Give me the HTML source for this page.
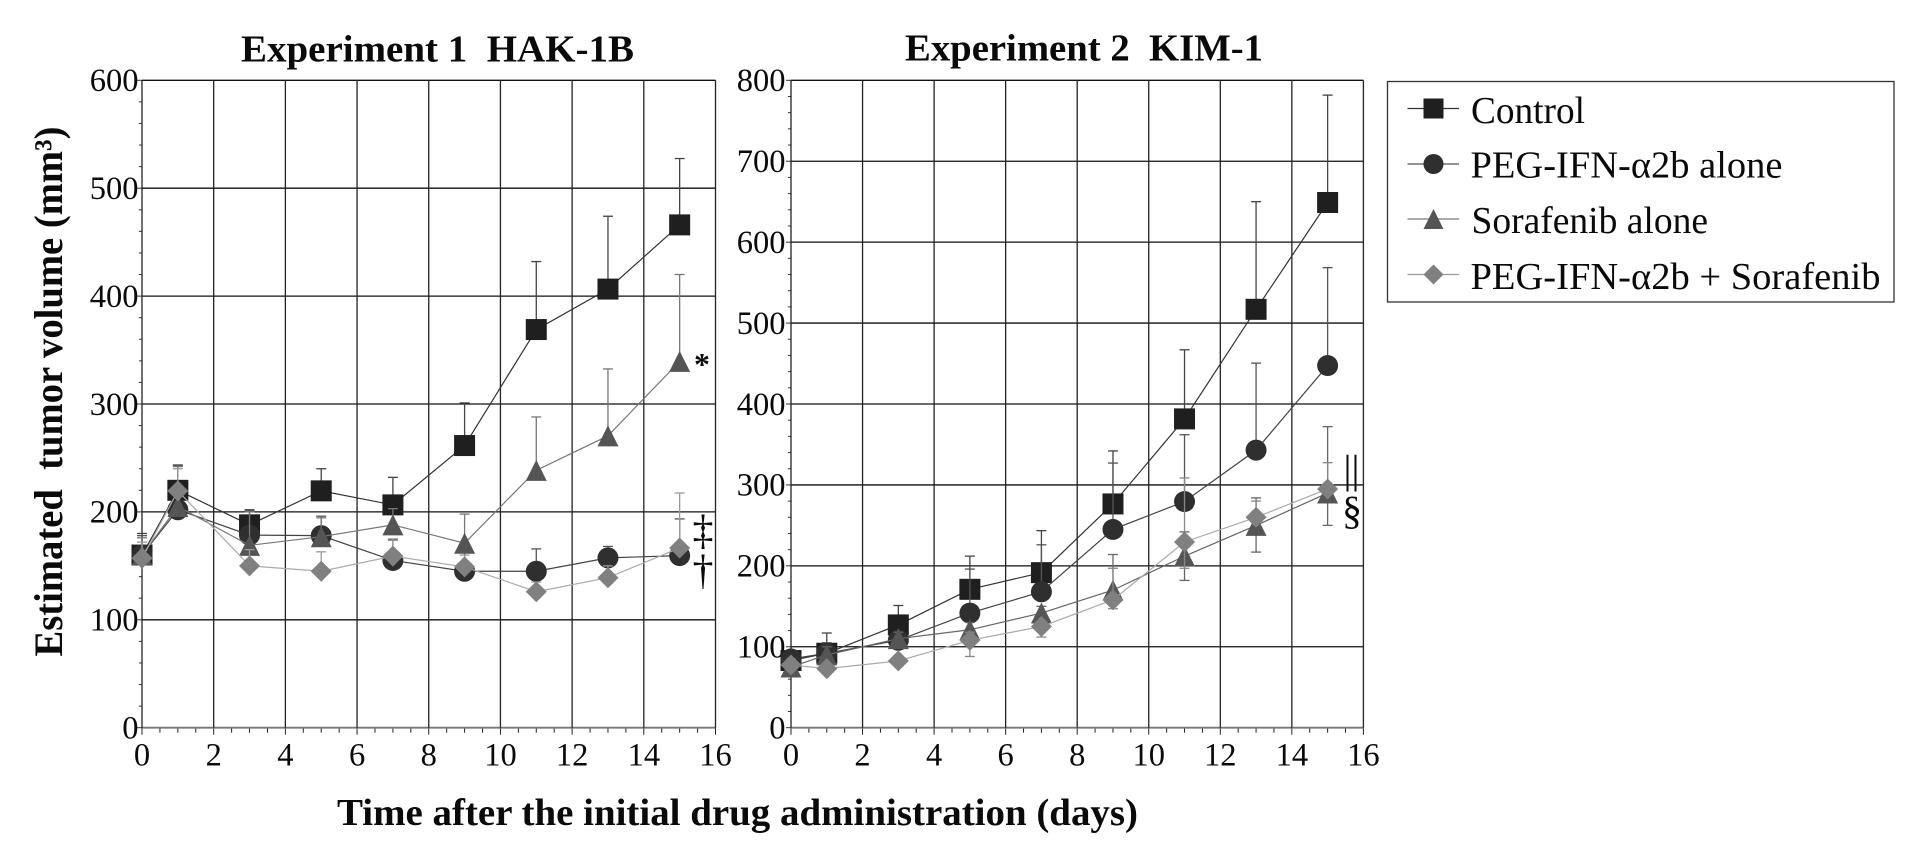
<!DOCTYPE html>
<html lang="en">
<head>
<meta charset="utf-8">
<title>Estimated tumor volume</title>
<style>
html,body{margin:0;padding:0;background:#fff;width:1913px;height:866px;overflow:hidden}
svg{display:block;filter:blur(0.3px)}
text{font-family:"Liberation Serif","DejaVu Serif",serif;fill:#0a0a0a}
.b{font-weight:bold}
</style>
</head>
<body>
<svg id="chart" xmlns="http://www.w3.org/2000/svg" width="1913" height="866" viewBox="0 0 1913 866">
  <rect x="0" y="0" width="1913" height="866" fill="#fff"/>
  <text class="b" x="241" y="61.5" font-size="38.5" textLength="393" lengthAdjust="spacingAndGlyphs" xml:space="preserve">Experiment 1  HAK-1B</text>
  <text class="b" x="905" y="60.5" font-size="38.5" textLength="358" lengthAdjust="spacingAndGlyphs" xml:space="preserve">Experiment 2  KIM-1</text>
  <text class="b" x="337" y="825" font-size="38" textLength="801" lengthAdjust="spacingAndGlyphs">Time after the initial drug administration (days)</text>
  <text class="b" transform="translate(62,656.5) rotate(-90)" x="0" y="0" font-size="40" textLength="530" lengthAdjust="spacingAndGlyphs" xml:space="preserve">Estimated  tumor volume (mm³)</text>

  <g id="plot-1"></g>
  <g id="plot-2"></g>

  <text class="b" x="694" y="375" font-size="32">*</text>
  <text x="703" y="544" font-size="42" text-anchor="middle">‡</text>
  <text x="703" y="584" font-size="42" text-anchor="middle">†</text>
  <text x="1351.5" y="483" font-size="40" text-anchor="middle">||</text>
  <text x="1352" y="524" font-size="40" text-anchor="middle">§</text>

  <g>
    <rect x="1387.5" y="81.5" width="506.5" height="220.5" fill="#fff" stroke="#333" stroke-width="1.3"/>
    <g>
      <line x1="1407.5" x2="1459" y1="108.5" y2="108.5" stroke="#333" stroke-width="1.2"/>
      <rect x="1423.5" y="98.5" width="20" height="20" fill="#1f1f1f"/>
      <text x="1471" y="122.8" font-size="38.5" textLength="114" lengthAdjust="spacingAndGlyphs">Control</text>
    </g>
    <g>
      <line x1="1407.5" x2="1459" y1="164" y2="164" stroke="#555" stroke-width="1.2"/>
      <circle cx="1433.5" cy="164" r="10" fill="#2f2f2f"/>
      <text x="1470.5" y="177.5" font-size="38.5" textLength="312" lengthAdjust="spacingAndGlyphs">PEG-IFN-α2b alone</text>
    </g>
    <g>
      <line x1="1407.5" x2="1459" y1="219" y2="219" stroke="#777" stroke-width="1.2"/>
      <polygon points="1433.5,209 1443.5,229 1423.5,229" fill="#555"/>
      <text x="1471.5" y="233" font-size="38.5" textLength="236.5" lengthAdjust="spacingAndGlyphs">Sorafenib alone</text>
    </g>
    <g>
      <line x1="1407.5" x2="1459" y1="274.5" y2="274.5" stroke="#999" stroke-width="1.2"/>
      <polygon points="1433.5,264.5 1443.5,274.5 1433.5,284.5 1423.5,274.5" fill="#808080"/>
      <text x="1470.5" y="289" font-size="38.5" textLength="410" lengthAdjust="spacingAndGlyphs">PEG-IFN-α2b + Sorafenib</text>
    </g>
  </g>
</svg>

<script>
// Shared x data
const days = [0, 1, 3, 5, 7, 9, 11, 13, 15];
const xTickLabels = ['0', '2', '4', '6', '8', '10', '12', '14', '16'];

// Experiment 1: HAK-1B
const yTicks1 = ['0', '100', '200', '300', '400', '500', '600'];
const control1 = [160, 220, 188, 219.5, 206.5, 261.5, 369, 406.5, 466];
const peg1 = [160, 202, 178.5, 178, 155, 145, 145, 157.4, 159.5];
const sora1 = [160, 205, 169, 177, 188, 171, 238.5, 270.5, 339.5];
const combo1 = [157, 219.5, 150, 145, 159, 149, 126, 139, 166.6];
const controlHigh1 = [180, 243.5, 202, 240, 232, 301, 432, 474, 527.5];
const pegHigh1 = [178, 243, 201, 196, 174, 165, 165.7, 168, 193.5];
const soraHigh1 = [176, 242, 200, 194.5, 203, 198, 288, 332.5, 420];
const comboHigh1 = [172, 240, 165, 163, 175, 160, 135, 150, 217.5];

// Experiment 2: KIM-1
const yTicks2 = ['0', '100', '200', '300', '400', '500', '600', '700', '800'];
const control2 = [83, 92, 127, 171, 191.6, 276.5, 381.6, 517, 649];
const peg2 = [85, 92, 108, 141.6, 168, 245, 279.5, 343, 447.5];
const sora2 = [75, 90, 110, 121, 141.7, 170, 212, 250, 290];
const combo2 = [77.5, 73, 82.5, 108, 125, 158, 229.5, 260, 295];
const controlHigh2 = [95, 117, 151, 212, 243.5, 342, 467, 650, 781.7];
const pegHigh2 = [92, 105, 118, 196, 226, 327, 362, 450.5, 568.5];
const soraHigh2 = [85, 100, 118, 130, 150, 214, 242, 284, 372];
const comboHigh2 = [82, 78, 88, 118, 130, 197, 308.6, 280, 327.5];
const soraLow2 = [null, null, null, null, null, null, 182, 217, 250];
const comboLow2 = [null, null, null, 88, 112, 147, 197, null, null];

const NS = 'http://www.w3.org/2000/svg';

function make(parent, tag, attrs) {
  const node = document.createElementNS(NS, tag);
  Object.keys(attrs).forEach(function (k) { node.setAttribute(k, attrs[k]); });
  parent.appendChild(node);
  return node;
}

function drawMarker(g, shape, cx, cy, fill) {
  const s = 10.5;
  let m;
  if (shape === 'square') {
    m = make(g, 'rect', { x: cx - s, y: cy - s, width: 2 * s, height: 2 * s, fill: fill });
  } else if (shape === 'circle') {
    m = make(g, 'circle', { cx: cx, cy: cy, r: s, fill: fill });
  } else if (shape === 'triangle') {
    m = make(g, 'polygon', { points: cx + ',' + (cy - s) + ' ' + (cx + s) + ',' + (cy + s) + ' ' + (cx - s) + ',' + (cy + s), fill: fill });
  } else {
    m = make(g, 'polygon', { points: cx + ',' + (cy - s) + ' ' + (cx + s) + ',' + cy + ' ' + cx + ',' + (cy + s) + ' ' + (cx - s) + ',' + cy, fill: fill });
  }
  
  
}

function drawCap(g, x, y, v, color) {
  const stem = make(g, 'line', { x1: x, x2: x, y1: y, y2: v, stroke: color, 'stroke-width': 1.3 });
  
  
  const cap = make(g, 'line', { x1: x - 5, x2: x + 5, y1: v, y2: v, stroke: color, 'stroke-width': 1.3 });
  
  
}

function drawPlot(cfg) {
  const g = document.getElementById(cfg.id);
  const xScale = function (d) { return cfg.left + (cfg.right - cfg.left) * d / 16; };
  const yScale = function (v) { return cfg.bottom - (cfg.bottom - cfg.top) * v / cfg.yMax; };

  // y ticks
  for (let v = 0; v <= cfg.yMax; v += 20) {
    const major = v % 100 === 0;
    const t = make(g, 'line', { x1: cfg.left - (major ? 5 : 3), x2: cfg.left, y1: yScale(v), y2: yScale(v), stroke: '#333', 'stroke-width': 1 });
    
    
  }
  // x ticks
  for (let d = 0; d <= 16; d += 0.5) {
    const major = d % 2 === 0;
    const t = make(g, 'line', { x1: xScale(d), x2: xScale(d), y1: cfg.bottom, y2: cfg.bottom + (major ? 7 : 5), stroke: '#222', 'stroke-width': 1 });
    
    
  }
  // horizontal gridlines and labels
  cfg.yLabels.forEach(function (label) {
    const v = Number(label);
    const line = make(g, 'line', { x1: cfg.left, x2: cfg.right, y1: yScale(v), y2: yScale(v), stroke: v === 0 ? '#777' : '#111', 'stroke-width': v === 0 ? 1.8 : 1.3 });
    
    
    const txt = make(g, 'text', { x: cfg.labelRight, y: yScale(v) + 10.8, 'font-size': 32.5, 'text-anchor': 'end' });
    txt.textContent = label;
    
    
  });
  // vertical gridlines and labels
  xTickLabels.forEach(function (label) {
    const d = Number(label);
    const line = make(g, 'line', { x1: xScale(d), x2: xScale(d), y1: cfg.top, y2: cfg.bottom, stroke: '#222', 'stroke-width': 1.3 });
    
    
    const txt = make(g, 'text', { x: xScale(d), y: 765.5, 'font-size': 32.5, 'text-anchor': 'middle' });
    txt.textContent = label;
    
    
  });
  // series
  cfg.series.forEach(function (s) {
    const sg = make(g, 'g', {});
    
    
    days.forEach(function (d, i) {
      const x = xScale(d), y = yScale(s.values[i]);
      if (s.high && s.high[i] !== null) { drawCap(sg, x, y, yScale(s.high[i]), s.errColor); }
      if (s.low && s.low[i] !== null) { drawCap(sg, x, y, yScale(s.low[i]), s.errColor); }
    });
    const pts = days.map(function (d, i) { return xScale(d) + ',' + yScale(s.values[i]); }).join(' ');
    const path = make(sg, 'polyline', { points: pts, fill: 'none', stroke: s.lineColor, 'stroke-width': 1.2 });
    
    
    days.forEach(function (d, i) {
      drawMarker(sg, s.shape, xScale(d), yScale(s.values[i]), s.fill);
    });
  });
}

drawPlot({
  id: 'plot-1', left: 142, right: 715.5, top: 80.3, bottom: 727.7, yMax: 600, labelRight: 138.5, yLabels: yTicks1,
  series: [
    { name: 'control', shape: 'square', fill: '#1f1f1f', lineColor: '#333', errColor: '#444', values: control1, high: controlHigh1 },
    { name: 'peg-ifn', shape: 'circle', fill: '#2f2f2f', lineColor: '#444', errColor: '#555', values: peg1, high: pegHigh1 },
    { name: 'sorafenib', shape: 'triangle', fill: '#555', lineColor: '#777', errColor: '#777', values: sora1, high: soraHigh1 },
    { name: 'combination', shape: 'diamond', fill: '#808080', lineColor: '#aaa', errColor: '#999', values: combo1, high: comboHigh1 }
  ]
});

drawPlot({
  id: 'plot-2', left: 791, right: 1363.4, top: 80.3, bottom: 727.7, yMax: 800, labelRight: 785.5, yLabels: yTicks2,
  series: [
    { name: 'control', shape: 'square', fill: '#1f1f1f', lineColor: '#333', errColor: '#444', values: control2, high: controlHigh2 },
    { name: 'peg-ifn', shape: 'circle', fill: '#2f2f2f', lineColor: '#444', errColor: '#555', values: peg2, high: pegHigh2 },
    { name: 'sorafenib', shape: 'triangle', fill: '#555', lineColor: '#666', errColor: '#666', values: sora2, high: soraHigh2, low: soraLow2 },
    { name: 'combination', shape: 'diamond', fill: '#808080', lineColor: '#aaa', errColor: '#888', values: combo2, high: comboHigh2, low: comboLow2 }
  ]
});
</script>
</body>
</html>
